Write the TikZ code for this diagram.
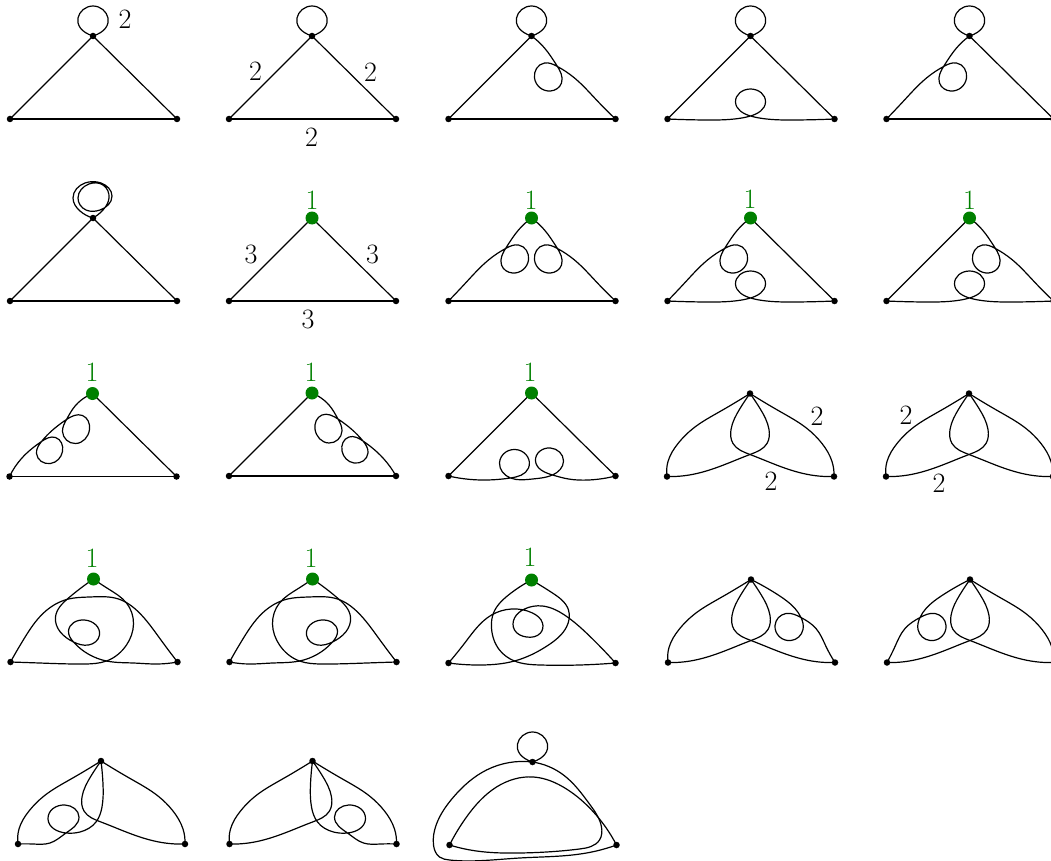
\documentclass[tikz,border=0pt]{standalone}
\usepackage{amsmath,amssymb}
\usepackage{tikz}
\usetikzlibrary{hobby}
\definecolor{LoopGreen}{RGB}{0,128,0}
\tikzset{
  dot/.style={circle,fill=black,inner sep=0pt,minimum size=6.5pt},
  gdot/.style={circle,fill=LoopGreen,inner sep=0pt,minimum size=13pt},
  edge/.style={draw=black,line width=1.2pt},
  curve/.style={edge,use Hobby shortcut},
  lab/.style={inner sep=0pt,font=\fontsize{28}{30}\selectfont},
  glab/.style={lab,text=LoopGreen},
}
\newcommand{\corners}[1]{\coordinate (a#1) at (0,0); \coordinate (b#1) at (-83,83); \coordinate (c#1) at (84,83);}
\newcommand{\blackdots}[1]{\node[dot] (pa#1) at (a#1) {}; \node[dot] (pb#1) at (b#1) {}; \node[dot] (pc#1) at (c#1) {};}
\newcommand{\greendots}[1]{\node[gdot] (pa#1) at (a#1) {}; \node[dot] (pb#1) at (b#1) {}; \node[dot] (pc#1) at (c#1) {};}
\newcommand{\toploop}[1]{\draw[edge] (a#1) .. controls (-25,-8) and (-15,-30) .. (0,-30) .. controls (15,-30) and (25,-8) .. (a#1);}
\newcommand{\sideloop}[3]{\draw[curve,#1] (#3) .. (-13,12) .. (-25,29) .. (-30,47) .. (-19,55) .. (-3,42) .. (-13,27) .. (-25,30) .. (-43,42) .. (-65,64) .. (#2);}
\newcommand{\twoloops}[3]{\draw[curve,#1] (#2) .. (-71,65) .. (-51,48) .. (-37,44) .. (-30,58) .. (-42,70) .. (-56,60) .. (-51,48) .. (-26,26) .. (-10,22) .. (-3,36) .. (-17,50) .. (-30,38) .. (-26,26) .. (-17,12) .. (-6,3) .. (#3);}
\newcommand{\baseloop}[1]{\draw[curve] (b#1) .. (-44,84) .. (-16,83) .. (0,80) .. (15,66) .. (0,53) .. (-15,66) .. (0,80) .. (16,83) .. (44,84) .. (c#1);}
\newcommand{\winged}[3]{\draw[curve,#1] (#3) .. (-30,18) .. (-57,35) .. (-72,50) .. (-82,68) .. (#2);}
\newcommand{\crossed}[3]{\draw[curve,#1] (#3) .. (-10,15) .. (-19,36) .. (-17,50) .. (0,61) .. (36,75) .. (64,82) .. (#2);}
\newcommand{\wingloop}[3]{\draw[curve,#1] (#3) .. (28,16) .. (44,29) .. (50,38) .. (52,50) .. (40,61) .. (24,46) .. (35,34) .. (50,38) .. (65,49) .. (75,67) .. (#2);}
\newcommand{\weave}[3]{\draw[curve,#1] (#3) .. (-25,19) .. (-38,38) .. (-20,63) .. (-5,66) .. (6,56) .. (-9,41) .. (-25,52) .. (-20,63) .. (13,82) .. (40,84) .. (63,85) .. (#2);}
\newcommand{\hoop}[3]{\draw[curve,#1] (#3) .. (15,10) .. (33,24) .. (40,45) .. (33,66) .. (13,82) .. (-10,85) .. (-54,84) .. (#2);}
\newcommand{\hump}[1]{\draw[curve] (b#1) .. (-69,59) .. (-50,34) .. (-25,20) .. (-4,18) .. (25,20) .. (45,33) .. (66,59) .. (c#1);}
\newcommand{\tailloop}[3]{\draw[curve,#1] (#3) .. (2,23) .. (1,46) .. (-5,61) .. (-21,71) .. (-35,72) .. (-53,58) .. (-36,44) .. (-22,56) .. (-35,72) .. (-51,82) .. (-68,83) .. (#2);}
\begin{document}
\begin{tikzpicture}[x=1pt,y=-1pt]
\useasboundingbox (0,0) rectangle (1051,861);
% first row
\begin{scope}[shift={(93,36)}]
\corners{1}
\toploop{1}
\draw[edge] (a1)--(b1);
\draw[edge] (a1)--(c1);
\draw[edge] (b1)--(c1);
\blackdots{1}
\end{scope}
\begin{scope}[shift={(312,36)}]
\corners{2}
\toploop{2}
\draw[edge] (a2)--(b2);
\draw[edge] (a2)--(c2);
\draw[edge] (b2)--(c2);
\blackdots{2}
\end{scope}
\begin{scope}[shift={(531.5,36)}]
\corners{3}
\toploop{3}
\draw[edge] (a3)--(b3);
\draw[edge] (b3)--(c3);
\sideloop{xscale=-1}{c3}{a3}
\blackdots{3}
\end{scope}
\begin{scope}[shift={(750.5,36)}]
\corners{4}
\toploop{4}
\draw[edge] (a4)--(b4);
\draw[edge] (a4)--(c4);
\baseloop{4}
\blackdots{4}
\end{scope}
\begin{scope}[shift={(969.5,36)}]
\corners{5}
\toploop{5}
\draw[edge] (a5)--(c5);
\draw[edge] (b5)--(c5);
\sideloop{}{b5}{a5}
\blackdots{5}
\end{scope}
% second row
\begin{scope}[shift={(93,218)}]
\corners{6}
\draw[curve] (a6) .. (-13,-7) .. (-20,-20) .. (-8,-35) .. (8,-35) .. (19,-22) .. (7,-8) .. (-7,-8) .. (-15,-20) .. (-4,-34) .. (10,-33) .. (16,-20) .. (10,-8) .. (a6);
\draw[edge] (a6)--(b6);
\draw[edge] (a6)--(c6);
\draw[edge] (b6)--(c6);
\blackdots{6}
\end{scope}
\begin{scope}[shift={(312,218)}]
\corners{7}
\draw[edge] (a7)--(b7);
\draw[edge] (a7)--(c7);
\draw[edge] (b7)--(c7);
\greendots{7}
\end{scope}
\begin{scope}[shift={(531.5,218)}]
\corners{8}
\draw[edge] (b8)--(c8);
\sideloop{}{b8}{a8}
\sideloop{xscale=-1}{c8}{a8}
\greendots{8}
\end{scope}
\begin{scope}[shift={(750.5,218)}]
\corners{9}
\draw[edge] (a9)--(c9);
\sideloop{}{b9}{a9}
\baseloop{9}
\greendots{9}
\end{scope}
\begin{scope}[shift={(969.5,218)}]
\corners{10}
\draw[edge] (a10)--(b10);
\sideloop{xscale=-1}{c10}{a10}
\baseloop{10}
\greendots{10}
\end{scope}
% third row
\begin{scope}[shift={(92.5,393.5)}]
\corners{11}
\draw[edge] (a11)--(c11);
\draw[edge] (b11)--(c11);
\twoloops{}{b11}{a11}
\greendots{11}
\end{scope}
\begin{scope}[shift={(312,393)}]
\corners{12}
\draw[edge] (a12)--(b12);
\draw[edge] (b12)--(c12);
\twoloops{xscale=-1}{c12}{a12}
\greendots{12}
\end{scope}
\begin{scope}[shift={(531.5,393)}]
\corners{13}
\draw[edge] (a13)--(b13);
\draw[edge] (a13)--(c13);
\draw[curve] (b13) .. (-50,87) .. (-21,85) .. (-3,75) .. (-13,57) .. (-32,70) .. (-21,85) .. (1,86) .. (21,82) .. (32,68) .. (19,55) .. (4,68) .. (21,82) .. (37,86) .. (57,87) .. (c13);
\greendots{13}
\end{scope}
\begin{scope}[shift={(750,393.5)}]
\corners{14}
\winged{}{b14}{a14}
\winged{xscale=-1}{c14}{a14}
\crossed{}{c14}{a14}
\crossed{xscale=-1}{b14}{a14}
\blackdots{14}
\end{scope}
\begin{scope}[shift={(969,393.5)}]
\corners{15}
\winged{}{b15}{a15}
\winged{xscale=-1}{c15}{a15}
\crossed{}{c15}{a15}
\crossed{xscale=-1}{b15}{a15}
\blackdots{15}
\end{scope}
% fourth row
\begin{scope}[shift={(93.5,579)}]
\corners{16}
\hump{16}
\weave{}{c16}{a16}
\hoop{}{b16}{a16}
\greendots{16}
\end{scope}
\begin{scope}[shift={(312.5,579)}]
\corners{17}
\hump{17}
\weave{xscale=-1}{b17}{a17}
\hoop{xscale=-1}{c17}{a17}
\greendots{17}
\end{scope}
\begin{scope}[shift={(531.5,580)}]
\corners{18}
\draw[curve] (b18) .. (-66,62) .. (-40,35) .. (-20,29) .. (1,33) .. (11,43) .. (9,53) .. (-5,57) .. (-17,50) .. (-17,38) .. (-7,29) .. (11,26) .. (33,35) .. (57,55) .. (c18);
\draw[curve] (a18) .. (-23,15) .. (-38,33) .. (-40,48) .. (-32,70) .. (-17,81) .. (9,85) .. (c18);
\draw[curve] (a18) .. (21,13) .. (37,30) .. (35,47) .. (17,65) .. (-17,81) .. (-50,85) .. (b18);
\greendots{18}
\end{scope}
\begin{scope}[shift={(751,579.5)}]
\corners{19}
\winged{}{b19}{a19}
\crossed{}{c19}{a19}
\crossed{xscale=-1}{b19}{a19}
\wingloop{}{c19}{a19}
\blackdots{19}
\end{scope}
\begin{scope}[shift={(970,579.5)}]
\corners{20}
\winged{xscale=-1}{c20}{a20}
\crossed{}{c20}{a20}
\crossed{xscale=-1}{b20}{a20}
\wingloop{xscale=-1}{b20}{a20}
\blackdots{20}
\end{scope}
% last row
\begin{scope}[shift={(101,761)}]
\corners{21}
\winged{}{b21}{a21}
\winged{xscale=-1}{c21}{a21}
\crossed{}{c21}{a21}
\tailloop{}{b21}{a21}
\blackdots{21}
\end{scope}
\begin{scope}[shift={(312.5,761)}]
\corners{22}
\winged{}{b22}{a22}
\winged{xscale=-1}{c22}{a22}
\crossed{xscale=-1}{b22}{a22}
\tailloop{xscale=-1}{c22}{a22}
\blackdots{22}
\end{scope}
\begin{scope}[shift={(532.5,762)}]
\corners{23}
\toploop{23}
\draw[curve] (a23) .. (-46,8) .. (-79,35) .. (-96,62) .. (-99,83) .. (-93,95) .. (-83,98) .. (-13,96) .. (54,91) .. (c23);
\draw[curve] (a23) .. (31,13) .. (57,42) .. (69,65) .. (67,78) .. (47,87) .. (-13,91) .. (-56,89) .. (b23);
\draw[curve] (b23) .. (-66,55) .. (-36,25) .. (1,15) .. (34,27) .. (61,50) .. (c23);
\blackdots{23}
\end{scope}
% labels
\node[lab] (n1) at (125,19) {2};
\node[lab] (n2) at (255.5,71.5) {2};
\node[lab] (n3) at (370.5,72) {2};
\node[lab] (n4) at (311.5,137) {2};
\node[lab] (n5) at (251,254) {3};
\node[lab] (n6) at (372.5,254) {3};
\node[lab] (n7) at (308,319) {3};
\node[lab] (n8) at (817,416) {2};
\node[lab] (n9) at (771,481) {2};
\node[lab] (n10) at (906,415) {2};
\node[lab] (n11) at (939,483) {2};
\node[glab] (g1) at (312,200) {1};
\node[glab] (g2) at (531,200) {1};
\node[glab] (g3) at (750,199) {1};
\node[glab] (g4) at (969.5,200) {1};
\node[glab] (g5) at (92,372) {1};
\node[glab] (g6) at (311,372) {1};
\node[glab] (g7) at (530,372) {1};
\node[glab] (g8) at (92,558) {1};
\node[glab] (g9) at (311,558) {1};
\node[glab] (g10) at (530,557) {1};
\end{tikzpicture}
\end{document}
